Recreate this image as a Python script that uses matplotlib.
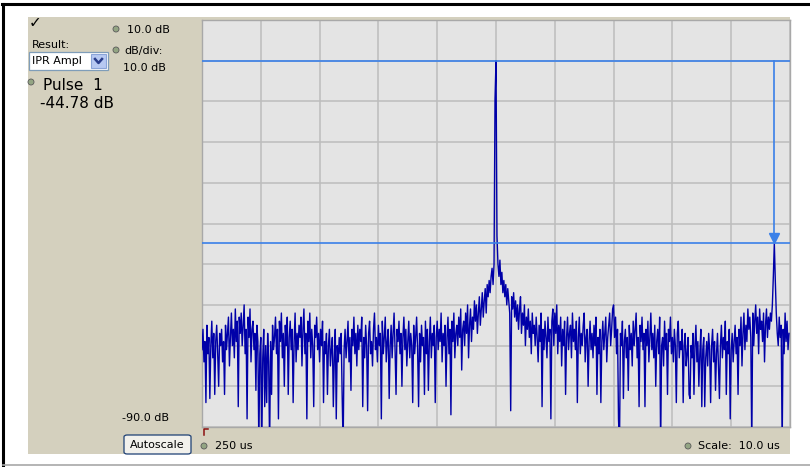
import numpy as np
import matplotlib.pyplot as plt
from matplotlib.patches import Rectangle, FancyBboxPatch, Ellipse
from matplotlib.lines import Line2D

#-------------------------------------------------------------------------------
# DATA
#-------------------------------------------------------------------------------

# sample time base (us)
t_start = 250.0
t_step = 1.0 / 6.0

# IPR amplitude trace, dB relative to main pulse (20 samples per row)
ipr_db = [
    -71, -66, -74, -69, -84, -65, -72, -68, -83, -70, -64, -73, -67, -82, -69, -65, -72, -80, -67, -70,
    -66, -74, -69, -82, -65, -71, -67, -63, -75, -68, -62, -70, -66, -73, -61, -69, -64, -85, -63, -67,
    -62, -70, -65, -60, -72, -66, -88, -63, -68, -61, -74, -66, -64, -71, -67, -81, -65, -69, -95, -72,
    -68, -95, -73, -66, -85, -70, -84, -67, -74, -95, -69, -82, -65, -71, -68, -63, -72, -66, -88, -64,
    -69, -62, -73, -67, -80, -65, -70, -63, -82, -68, -64, -71, -66, -84, -69, -62, -74, -67, -71, -65,
    -68, -63, -75, -66, -61, -72, -67, -88, -64, -69, -62, -73, -66, -70, -85, -65, -68, -63, -71, -67,
    -74, -66, -70, -64, -84, -69, -72, -67, -82, -70, -66, -75, -71, -68, -85, -73, -66, -88, -70, -74,
    -68, -72, -67, -82, -95, -71, -66, -73, -69, -64, -74, -68, -81, -66, -70, -63, -72, -67, -75, -65,
    -71, -66, -69, -63, -85, -68, -73, -65, -70, -86, -67, -64, -72, -69, -75, -66, -62, -71, -68, -74,
    -65, -70, -67, -88, -64, -72, -68, -63, -74, -69, -66, -83, -70, -65, -73, -67, -62, -71, -82, -66,
    -69, -64, -72, -67, -80, -68, -63, -71, -66, -75, -69, -64, -73, -67, -70, -84, -65, -72, -68, -63,
    -71, -85, -67, -74, -65, -70, -68, -82, -64, -72, -66, -81, -69, -63, -73, -67, -70, -65, -84, -68,
    -64, -71, -66, -69, -62, -74, -67, -70, -65, -80, -68, -63, -72, -66, -87, -64, -69, -62, -73, -67,
    -65, -70, -63, -68, -61, -76, -66, -64, -70, -62, -67, -60, -73, -65, -61, -69, -63, -66, -59, -64,
    -60, -67, -62, -58, -65, -61, -57, -63, -59, -56, -62, -55, -58, -54, -57, -53, -51, -55, -50, -9.5,
    0.0, -43, -50, -53, -49, -55, -52, -57, -54, -58, -55, -60, -56, -59, -62, -86, -58, -61, -57, -63,
    -59, -64, -60, -66, -61, -58, -67, -62, -65, -60, -70, -63, -66, -61, -68, -64, -72, -62, -67, -65,
    -70, -63, -68, -74, -65, -69, -62, -85, -66, -71, -64, -68, -73, -63, -69, -66, -88, -64, -61, -70,
    -62, -67, -60, -72, -65, -69, -63, -75, -66, -70, -64, -82, -68, -63, -71, -67, -65, -73, -62, -69,
    -66, -71, -64, -84, -68, -63, -72, -67, -70, -65, -62, -74, -68, -66, -80, -69, -64, -71, -67, -73,
    -65, -70, -63, -82, -68, -72, -66, -84, -69, -64, -71, -67, -63, -74, -68, -65, -62, -70, -66, -61,
    -60, -68, -63, -72, -66, -88, -95, -67, -70, -64, -83, -69, -66, -73, -68, -81, -65, -71, -67, -75,
    -64, -70, -66, -62, -73, -68, -85, -65, -69, -63, -71, -67, -85, -66, -70, -64, -74, -68, -62, -71,
    -67, -73, -65, -80, -69, -66, -72, -63, -95, -70, -68, -75, -64, -71, -67, -82, -66, -69, -63, -72,
    -68, -74, -66, -70, -84, -67, -64, -73, -69, -71, -66, -84, -70, -67, -75, -72, -68, -82, -83, -70,
    -73, -67, -82, -70, -65, -74, -69, -80, -72, -66, -85, -71, -68, -85, -73, -69, -75, -67, -71, -84,
    -70, -66, -74, -69, -81, -72, -67, -75, -83, -70, -65, -73, -68, -71, -64, -82, -69, -72, -66, -88,
    -71, -67, -74, -69, -65, -72, -68, -82, -66, -70, -63, -75, -67, -62, -71, -65, -69, -61, -66, -63,
    -68, -95, -62, -70, -64, -60, -67, -63, -72, -61, -66, -64, -69, -62, -74, -65, -61, -68, -63, -66,
    -62, -64, -60, -53, -44.78, -54, -62, -67, -70, -63, -68, -65, -95, -66, -72, -62, -69, -64, -71, -67,
]

main_db = 0.0
pulse_db = -44.78

x_min, x_div = 250, 10.0
y_top, y_bot, y_div = 10.0, -90.0, 10.0

#-------------------------------------------------------------------------------
# FIGURE
#-------------------------------------------------------------------------------

W, H = 810, 467
TAN = '#D4D0BE'
TRACE = '#0000A8'
MARK = '#3A80E8'

def fx(x):
    return x / W

def fy(y):
    return 1 - y / H

plt.rcParams['font.family'] = ['DejaVu Sans']

fig = plt.figure(figsize=(W / 100, H / 100), dpi=100, facecolor='white')

# outer frame
fig.add_artist(Line2D([fx(2), fx(810)], [fy(4), fy(4)], color='black', lw=2.2))
fig.add_artist(Line2D([fx(3), fx(3)], [fy(4), fy(467)], color='black', lw=2.2))
fig.add_artist(Line2D([fx(3), fx(810)], [fy(465), fy(465)], color='#A8A8A8', lw=1.2))

# tan control panel
fig.add_artist(Rectangle((fx(28), fy(454)), fx(790) - fx(28), fy(17) - fy(454),
                         facecolor=TAN, edgecolor='none', zorder=0))

#-------------------------------------------------------------------------------
# PLOT AREA
#-------------------------------------------------------------------------------

ax = fig.add_axes([fx(202), fy(427), fx(790) - fx(202), fy(20) - fy(427)])
ax.set_facecolor('#E4E4E4')

t = t_start + t_step * np.arange(len(ipr_db))
ax.plot(t, ipr_db, color=TRACE, lw=1.0, zorder=3)

ax.set_xlim(x_min, x_min + 10 * x_div)
ax.set_ylim(y_bot, y_top)
ax.set_xticks(np.arange(x_min, x_min + 10 * x_div + 1, x_div))
ax.set_yticks(np.arange(y_bot, y_top + 1, y_div))
ax.tick_params(length=0, labelbottom=False, labelleft=False)
ax.grid(True, color='#BCBCBC', lw=1.1)
ax.set_axisbelow(True)
for s in ax.spines.values():
    s.set_color('#A8A8A8')
    s.set_linewidth(1.0)

# markers: main pulse level, side pulse level, and the arrow between them
t_pulse = t[int(np.argmin(np.abs(np.array(ipr_db) - pulse_db)))]
ax.axhline(main_db, color=MARK, lw=1.2, zorder=4)
ax.axhline(pulse_db, color=MARK, lw=1.2, zorder=4)
ax.plot([t_pulse, t_pulse], [main_db, pulse_db + 1.5], color=MARK, lw=1.2, zorder=4)
ax.plot([t_pulse], [pulse_db + 1.3], marker='v', color=MARK, ms=7, zorder=5)

#-------------------------------------------------------------------------------
# PANEL WIDGETS
#-------------------------------------------------------------------------------

def bullet(x, y):
    fig.add_artist(Ellipse((fx(x), fy(y)), 6 / W, 6 / H, facecolor='#93A583',
                           edgecolor='#5A5A5A', lw=0.6))

fs = 8

fig.text(fx(29), fy(23), '\u2713', fontsize=11, fontweight='bold', va='center', ha='left')

bullet(116, 29)
fig.text(fx(127), fy(30), '10.0 dB', fontsize=fs, va='center')

fig.text(fx(32), fy(45), 'Result:', fontsize=fs, va='center')
fig.add_artist(Rectangle((fx(29), fy(70)), fx(108) - fx(29), fy(52) - fy(70),
                         facecolor='white', edgecolor='#7F9DB9', lw=0.9))
fig.text(fx(32), fy(61), 'IPR Ampl', fontsize=fs, va='center')
fig.add_artist(Rectangle((fx(91), fy(68)), fx(106) - fx(91), fy(54) - fy(68),
                         facecolor='#B7C9F2', edgecolor='#8AA4D8', lw=0.8))
fig.add_artist(Line2D([fx(95), fx(98.5), fx(102)], [fy(59), fy(63), fy(59)],
                      color='#2A3E8C', lw=1.8))

bullet(116, 50)
fig.text(fx(124), fy(51), 'dB/div:', fontsize=fs, va='center')
fig.text(fx(123), fy(68), '10.0 dB', fontsize=fs, va='center')

bullet(31, 82)
fig.text(fx(43), fy(86), 'Pulse  1', fontsize=11, va='center')
fig.text(fx(40), fy(104), '%.2f dB' % pulse_db, fontsize=11, va='center')

fig.text(fx(122), fy(418), '%.1f dB' % y_bot, fontsize=fs, va='center')

# small trigger corner mark
fig.add_artist(Line2D([fx(204), fx(204), fx(208)], [fy(435), fy(429), fy(429)],
                      color='#8B1010', lw=1.1))

fig.add_artist(FancyBboxPatch((fx(124), fy(454)), fx(191) - fx(124), fy(435) - fy(454),
                              boxstyle='round,pad=0,rounding_size=0.004',
                              facecolor='#F2F1EC', edgecolor='#1C3F73', lw=0.9))
fig.text(fx(157.5), fy(445), 'Autoscale', fontsize=fs, va='center', ha='center')

bullet(204, 446)
fig.text(fx(215), fy(446), '%d us' % x_min, fontsize=fs, va='center')

bullet(688, 446)
fig.text(fx(698), fy(446), 'Scale:  %.1f us' % x_div, fontsize=fs, va='center')

fig.savefig('out.png', dpi=100, facecolor='white')
